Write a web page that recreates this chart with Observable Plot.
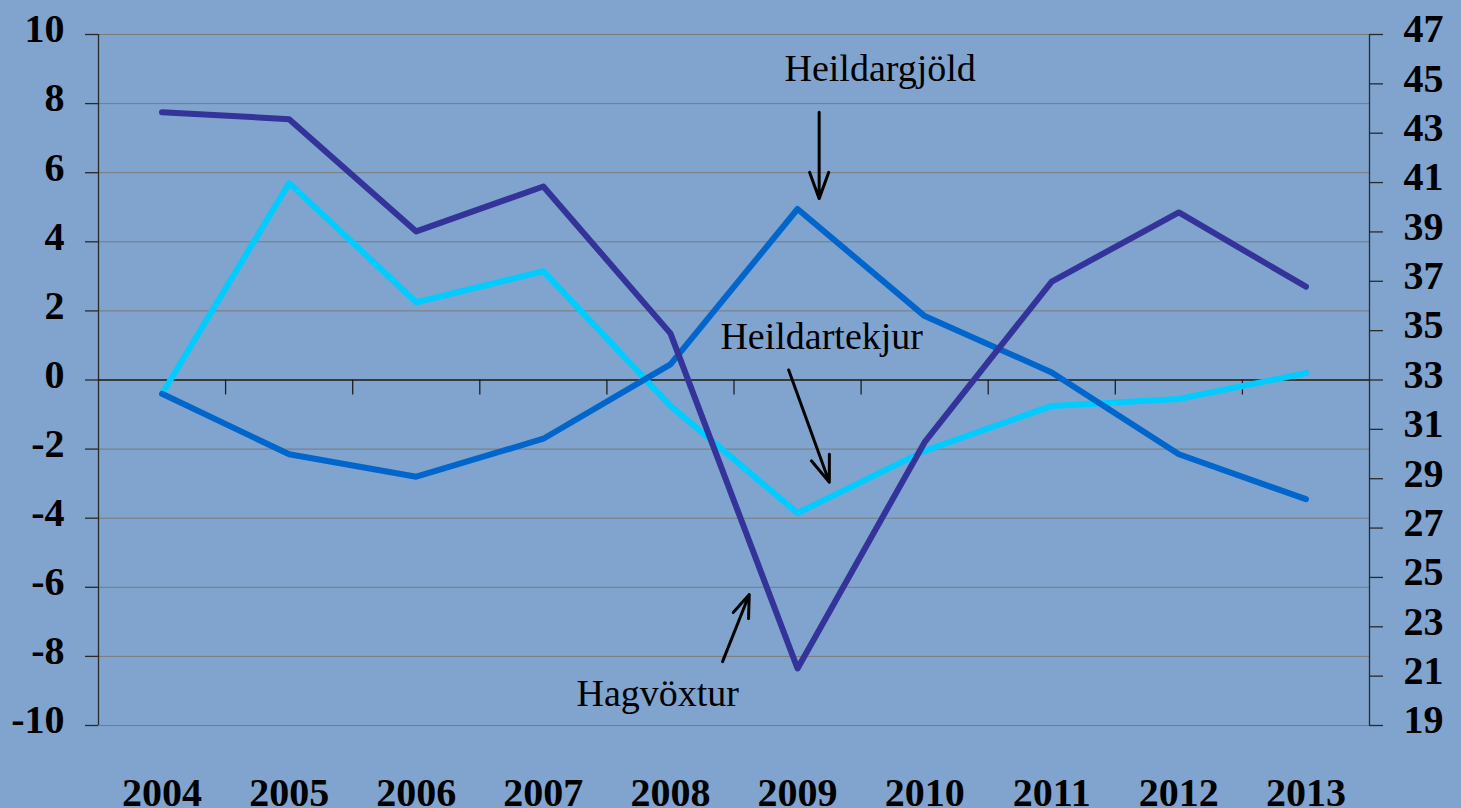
<!DOCTYPE html>
<html>
<head>
<meta charset="utf-8">
<script src="https://cdn.jsdelivr.net/npm/d3@7"></script>
<script src="https://cdn.jsdelivr.net/npm/@observablehq/plot@0.6"></script>
<style>
  html, body { margin: 0; padding: 0; background: #80A4CE; }
  #chart { width: 1461px; height: 808px; overflow: hidden; }
</style>
</head>
<body>
<div id="chart"></div>
<script>
// Categories
const years = [2004, 2005, 2006, 2007, 2008, 2009, 2010, 2011, 2012, 2013];
// Series values (left axis units)
const hagvoxtur = [7.75, 7.55, 4.3, 5.6, 1.35, -8.35, -1.8, 2.85, 4.85, 2.7];
const heildartekjur = [-0.4, 5.7, 2.25, 3.15, -0.75, -3.85, -2.05, -0.75, -0.55, 0.2];
const heildargjold = [-0.4, -2.15, -2.8, -1.7, 0.45, 4.95, 1.85, 0.22, -2.15, -3.45];
// Tick labels
const leftTicks = [-10, -8, -6, -4, -2, 0, 2, 4, 6, 8, 10];
const rightTicks = [19, 21, 23, 25, 27, 29, 31, 33, 35, 37, 39, 41, 43, 45, 47];
// Right axis relation: right = 33 + 1.4 * left
const toLeft = r => (r - 33) / 1.4;

// Annotation labels and arrows (data units)
const labelNames = ["Heildargjöld", "Heildartekjur", "Hagvöxtur"];
const labelX = [2009.65, 2009.19, 2007.9];
const labelY = [8.64, 0.9, -9.43];
const arrowX1 = [2009.17, 2008.93, 2008.41];
const arrowY1 = [7.75, 0.29, -8.15];
const arrowX2 = [2009.17, 2009.25, 2008.62];
const arrowY2 = [5.25, -2.96, -6.21];

const series = [
  {name: "Heildartekjur", values: heildartekjur, color: "#00CCFF"},
  {name: "Heildargjöld", values: heildargjold, color: "#0066CC"},
  {name: "Hagvöxtur", values: hagvoxtur, color: "#333399"}
];
const rows = series.flatMap(s => years.map((y, i) => ({year: y, value: s.values[i], name: s.name})));
const labels = labelNames.map((t, i) => ({t, x: labelX[i], y: labelY[i]}));
const arrows = labelNames.map((t, i) => ({x1: arrowX1[i], y1: arrowY1[i], x2: arrowX2[i], y2: arrowY2[i]}));
const boundaries = years.slice(0, -1).map(y => y + 0.5);
const xMin = years[0] - 0.5, xMax = years[years.length - 1] + 0.5;

const font = "'Liberation Serif', 'Times New Roman', serif";

const chart = Plot.plot({
  width: 1461,
  height: 808,
  marginLeft: 98,
  marginRight: 92,
  marginTop: 34,
  marginBottom: 83,
  style: {background: "#80A4CE", fontFamily: font, color: "black", overflow: "visible"},
  x: {type: "linear", domain: [xMin, xMax], axis: null},
  y: {domain: [-10, 10], axis: null},
  color: {domain: series.map(s => s.name), range: series.map(s => s.color)},
  marks: [
    // gridlines
    Plot.ruleY(leftTicks, {y: d => d, stroke: "#7a7a7a", strokeWidth: 1}),
    // axis lines
    Plot.ruleX([xMin, xMax], {x: d => d, stroke: "#2a2a2a", strokeWidth: 1.3}),
    Plot.ruleY([0], {y: d => d, stroke: "#1f1f1f", strokeWidth: 1.5}),
    // category boundary ticks on zero line
    Plot.ruleX(boundaries, {x: d => d, y1: () => 0, y2: () => 0, insetBottom: -15, stroke: "#1f1f1f", strokeWidth: 1.3}),
    // left ticks
    Plot.ruleY(leftTicks, {y: d => d, x1: () => xMin, x2: () => xMin, insetLeft: -13, stroke: "#2a2a2a", strokeWidth: 1.3}),
    // right ticks
    Plot.ruleY(rightTicks, {y: toLeft, x1: () => xMax, x2: () => xMax, insetRight: -14, stroke: "#2a2a2a", strokeWidth: 1.3}),
    // series lines
    Plot.line(rows, {x: "year", y: "value", z: "name", stroke: "name", strokeWidth: 6, strokeLinecap: "round", strokeLinejoin: "round"}),
    // left tick labels
    Plot.text(leftTicks, {x: () => xMin, y: d => d, text: d => String(d), textAnchor: "end", dx: -34, dy: -5, fontSize: 40, fontWeight: "bold", fill: "black"}),
    // right tick labels
    Plot.text(rightTicks, {x: () => xMax, y: toLeft, text: d => String(d), textAnchor: "start", dx: 34, dy: -5, fontSize: 40, fontWeight: "bold", fill: "black"}),
    // x labels
    Plot.text(years, {x: d => d, y: () => -10, text: d => String(d), dy: 80, lineAnchor: "bottom", fontSize: 40, fontWeight: "bold", fill: "black"}),
    // annotations
    Plot.text(labels, {x: "x", y: "y", text: "t", fontSize: 38, textAnchor: "middle", lineAnchor: "bottom", fill: "black"}),
    Plot.arrow(arrows, {x1: "x1", y1: "y1", x2: "x2", y2: "y2", stroke: "black", strokeWidth: 3, headLength: 14, headAngle: 40})
  ]
});
document.getElementById("chart").appendChild(chart);
</script>
</body>
</html>
